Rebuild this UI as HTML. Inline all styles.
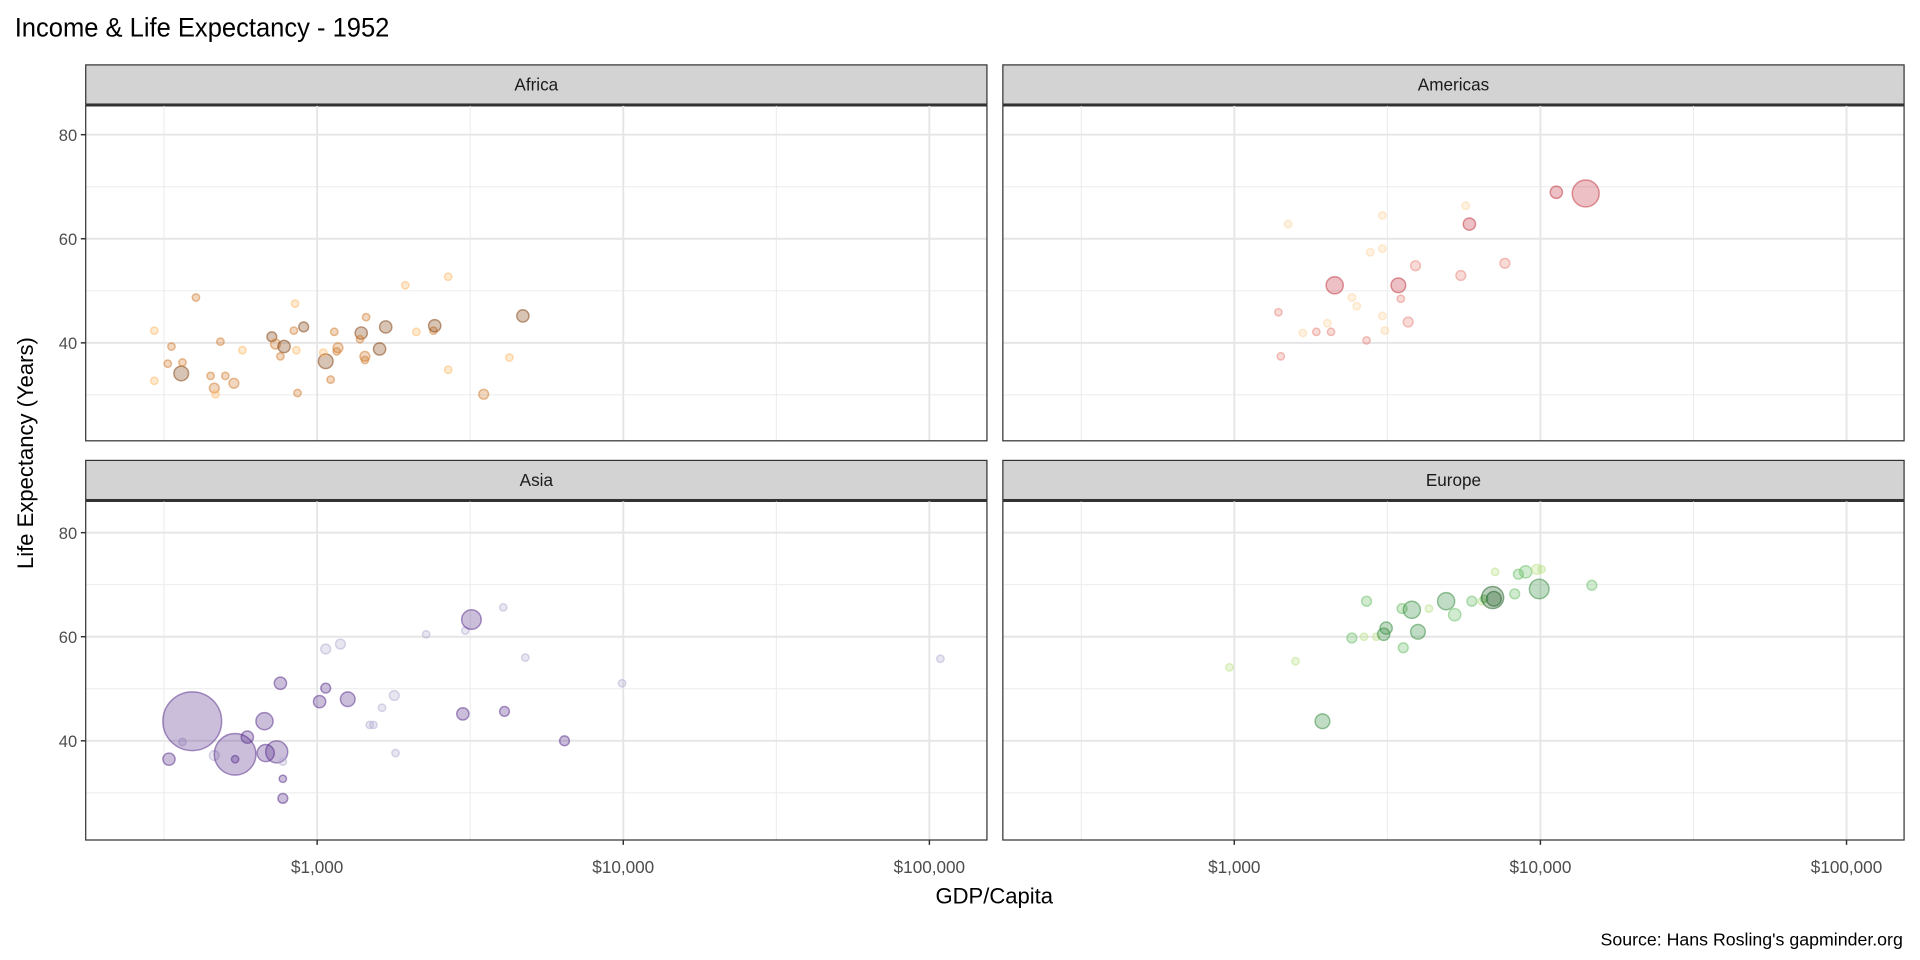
<!DOCTYPE html>
<html><head><meta charset="utf-8"><style>
html,body{margin:0;padding:0;background:#fff;width:1920px;height:960px;overflow:hidden}
svg text{font-family:"Liberation Sans",sans-serif}
</style></head><body>
<svg id="s" width="1920" height="960" viewBox="0 0 1568 784" xmlns="http://www.w3.org/2000/svg">
<rect width="1568" height="784" fill="#fff"/>
<text x="12" y="30" font-size="22" fill="#000" textLength="306" lengthAdjust="spacingAndGlyphs">Income &amp; Life Expectancy - 1952</text>
<text transform="translate(27,370) rotate(-90)" font-size="18" text-anchor="middle" fill="#000">Life Expectancy (Years)</text>
<text x="812" y="738" font-size="18" text-anchor="middle" fill="#000">GDP/Capita</text>
<text x="1554" y="772" font-size="14.5" text-anchor="end" fill="#000">Source: Hans Rosling's gapminder.org</text>
<g id="g"></g>
</svg>
<script>
const g=document.getElementById('g');let h='';
const panels=[[70,53,'Africa',0,0,360],[819,53,'Americas',749,0,360],[70,376,'Asia',0,325,686],[819,376,'Europe',749,325,686]];
panels.forEach(([x0,y0,n,dx,dy,pb],i)=>{
 const pt=y0+33,w=736;
 h+=`<rect x="${x0}" y="${y0}" width="${w}" height="32" fill="#d3d3d3" stroke="#333" stroke-width="1"/>`;
 h+=`<text x="${x0+w/2}" y="${y0+21}" font-size="14" text-anchor="middle" fill="#1a1a1a">${n}</text>`;
 h+=`<line x1="${x0}" x2="${x0+w}" y1="${pt}" y2="${pt}" stroke="#333" stroke-width="2"/>`;
 [70,50,30].forEach(v=>{const y=110+dy+(80-v)*4.25;h+=`<line x1="${x0}" x2="${x0+w}" y1="${y}" y2="${y}" stroke="#ebebeb" stroke-width="0.8"/>`;});
 [134,384,634].forEach(v=>{h+=`<line x1="${v+dx}" x2="${v+dx}" y1="${pt}" y2="${pb}" stroke="#ebebeb" stroke-width="0.8"/>`;});
 [80,60,40].forEach(v=>{const y=110+dy+(80-v)*4.25;h+=`<line x1="${x0}" x2="${x0+w}" y1="${y}" y2="${y}" stroke="#e6e6e6" stroke-width="1.6"/>`;
  if(i%2==0){h+=`<line x1="${x0-4}" x2="${x0}" y1="${y}" y2="${y}" stroke="#333" stroke-width="1.2"/><text x="${x0-7}" y="${y+5}" font-size="13.5" text-anchor="end" fill="#4d4d4d">${v}</text>`;}});
 [[259,'$1,000'],[509,'$10,000'],[759,'$100,000']].forEach(([v,l])=>{h+=`<line x1="${v+dx}" x2="${v+dx}" y1="${pt}" y2="${pb}" stroke="#e6e6e6" stroke-width="1.6"/>`;
  if(i>=2){h+=`<line x1="${v+dx}" x2="${v+dx}" y1="${pb}" y2="${pb+4}" stroke="#333" stroke-width="1.2"/><text x="${v+dx}" y="${pb+27}" font-size="14" text-anchor="middle" fill="#4d4d4d">${l}</text>`;}});
 h+=`<rect x="${x0}" y="${pt}" width="${w}" height="${pb-pt}" fill="none" stroke="#333" stroke-width="1"/>`;
});
const C={b:'#7f3b08',o:'#d27a2c',l:'#fdb863',r:'#c0303a',p:'#e8837a',q:'#fdd49e',P:'#542788',L:'#b2abd2',G:'#2f8a3a',g:'#66bd63',k:'#b8e186',D:'#1b5e20'};
const pts=[
[126,270,3,'l'],[126,311,3,'l'],[140,283,3,'o'],[137,297,3,'o'],[148,305,6,'b'],[149,296,3,'o'],[160,243,3,'o'],[172,307,3,'o'],[175,317,4,'o'],[176,322,3,'l'],[180,279,3,'o'],[184,307,3,'o'],[191,313,4,'o'],[198,286,3,'l'],[222,275,4,'b'],[225,281,4,'o'],[229,291,3,'o'],[232,283,5,'b'],[240,270,3,'o'],[241,248,3,'l'],[242,286,3,'l'],[248,267,4,'b'],[243,321,3,'o'],[266,295,6,'b'],[264,288,3,'l'],[270,310,3,'o'],[273,271,3,'o'],[275,287,3,'o'],[276,284,4,'o'],[295,272,5,'b'],[294,277,3,'o'],[298,291,4,'o'],[298,294,3,'o'],[299,259,3,'o'],[310,285,5,'b'],[315,267,5,'b'],[331,233,3,'l'],[340,271,3,'l'],[354,270,3,'o'],[355,266,5,'b'],[366,226,3,'l'],[366,302,3,'l'],[395,322,4,'o'],[416,292,3,'l'],[427,258,5,'b'],
[1044,255,3,'p'],[1046,291,3,'p'],[1052,183,3,'q'],[1064,272,3,'q'],[1075,271,3,'p'],[1084,264,3,'q'],[1087,271,3,'p'],[1090,233,7,'r'],[1104,243,3,'q'],[1108,250,3,'q'],[1116,278,3,'p'],[1119,206,3,'q'],[1129,203,3,'q'],[1129,176,3,'q'],[1129,258,3,'q'],[1131,270,3,'q'],[1142,233,6,'r'],[1144,244,3,'p'],[1150,263,4,'p'],[1156,217,4,'p'],[1193,225,4,'p'],[1197,168,3,'q'],[1200,183,5,'r'],[1229,215,4,'p'],[1271,157,5,'r'],[1295,158,11,'r'],
[138,620,5,'P'],[149,606,3,'L'],[157,589,24,'P'],[175,617,4,'L'],[192,616,17,'P'],[192,620,3,'P'],[202,602,5,'P'],[216,589,7,'P'],[217,615,7,'P'],[226,614,9,'P'],[229,558,5,'P'],[231,622,3,'L'],[231,636,3,'P'],[231,652,4,'P'],[261,573,5,'P'],[266,530,4,'L'],[266,562,4,'P'],[278,526,4,'L'],[284,571,6,'P'],[312,578,3,'L'],[302,592,3,'L'],[305,592,3,'L'],[322,568,4,'L'],[323,615,3,'L'],[348,518,3,'L'],[378,583,5,'P'],[380,515,3,'L'],[385,506,8,'P'],[411,496,3,'L'],[412,581,4,'P'],[429,537,3,'L'],[461,605,4,'P'],[508,558,3,'L'],[768,538,3,'L'],
[1004,545,3,'k'],[1058,540,3,'k'],[1080,589,6,'G'],[1104,521,4,'g'],[1114,520,3,'k'],[1116,491,4,'g'],[1124,520,3,'k'],[1130,518,5,'G'],[1132,513,5,'G'],[1145,497,4,'g'],[1146,529,4,'g'],[1153,498,7,'G'],[1158,516,6,'G'],[1167,497,3,'k'],[1181,491,7,'G'],[1188,502,5,'g'],[1202,491,4,'g'],[1210,491,3,'k'],[1212,489,3,'g'],[1219,488,9,'D'],[1220,489,6,'D'],[1221,467,3,'k'],[1237,485,4,'g'],[1240,469,4,'g'],[1246,467,5,'g'],[1255,465,4,'k'],[1257,481,8,'G'],[1259,465,3,'k'],[1300,478,4,'g']];
pts.forEach(([x,y,r,c])=>{h+=`<circle cx="${x}" cy="${y}" r="${r}" fill="${C[c]}" fill-opacity="0.3" stroke="${C[c]}" stroke-opacity="0.5" stroke-width="1.2"/>`;});
g.innerHTML=h;
</script>
</body></html>
